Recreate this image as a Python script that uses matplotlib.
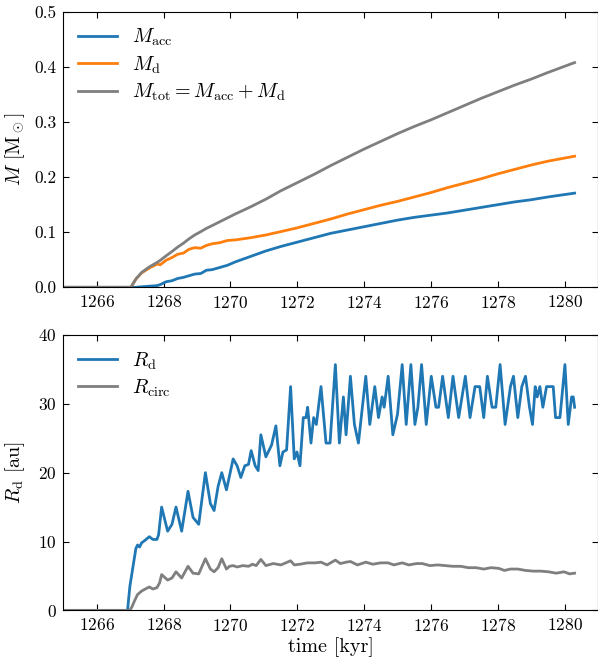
from __future__ import annotations

from pathlib import Path

import matplotlib

matplotlib.use("Agg")
import matplotlib.pyplot as plt

plt.rcParams["font.family"] = "serif"
plt.rcParams["font.serif"] = ["cmr10"]
plt.rcParams["mathtext.fontset"] = "cm"
plt.rcParams["axes.formatter.use_mathtext"] = True

# --- mass panel (kyr, Msun) -------------------------------------------------
T_MASS = [
    1265.0, 1267.02, 1267.17, 1267.34, 1267.57, 1267.80, 1267.90, 1268.07,
    1268.25, 1268.42, 1268.59, 1268.76, 1268.93, 1269.11, 1269.28, 1269.45,
    1269.68, 1269.91, 1270.14, 1270.6, 1271.06, 1271.5, 1272.0, 1272.5,
    1273.0, 1273.5, 1274.0, 1274.5, 1275.0, 1275.5, 1276.0, 1276.5, 1277.0,
    1277.5, 1278.0, 1278.5, 1279.0, 1279.5, 1280.3,
]
M_ACC = [
    0.0, 0.0, 0.0, 0.001, 0.002, 0.003, 0.005, 0.010,
    0.012, 0.016, 0.018, 0.021, 0.024, 0.025, 0.031, 0.032,
    0.036, 0.040, 0.046, 0.056, 0.066, 0.074, 0.082, 0.090,
    0.098, 0.104, 0.110, 0.116, 0.122, 0.127, 0.131, 0.135, 0.140,
    0.145, 0.150, 0.155, 0.159, 0.164, 0.171,
]
M_DISK = [
    0.0, 0.0, 0.015, 0.026, 0.035, 0.042, 0.041, 0.049,
    0.054, 0.060, 0.062, 0.069, 0.072, 0.071, 0.076, 0.079,
    0.081, 0.085, 0.086, 0.090, 0.095, 0.101, 0.108, 0.116,
    0.124, 0.133, 0.141, 0.149, 0.156, 0.164, 0.172, 0.181, 0.189,
    0.197, 0.206, 0.214, 0.222, 0.229, 0.238,
]
M_TOT = [
    0.0, 0.0, 0.015, 0.027, 0.037, 0.045, 0.049, 0.057,
    0.065, 0.073, 0.080, 0.088, 0.095, 0.101, 0.107, 0.112,
    0.119, 0.126, 0.133, 0.146, 0.160, 0.175, 0.190, 0.205,
    0.221, 0.236, 0.251, 0.265, 0.279, 0.292, 0.304, 0.317, 0.330,
    0.343, 0.355, 0.367, 0.378, 0.390, 0.408,
]

# --- disc radius (kyr, au) --------------------------------------------------
T_RD = [
    1265.0, 1266.92, 1266.94, 1266.99, 1267.17, 1267.22, 1267.28, 1267.34,
    1267.45, 1267.57, 1267.68, 1267.80, 1267.85, 1267.94, 1268.12, 1268.25,
    1268.37, 1268.54, 1268.73, 1268.88, 1269.05, 1269.25, 1269.40, 1269.51,
    1269.63, 1269.74, 1269.88, 1269.97, 1270.08, 1270.20, 1270.31, 1270.43,
    1270.54, 1270.62, 1270.74, 1270.83, 1270.91, 1271.06, 1271.23, 1271.36,
    1271.48, 1271.57, 1271.68, 1271.80, 1271.91, 1271.99, 1272.08, 1272.18,
    1272.26, 1272.31, 1272.41, 1272.49, 1272.57, 1272.71, 1272.86, 1272.98,
    1273.14, 1273.26, 1273.38, 1273.46, 1273.59, 1273.71, 1273.83, 1274.05,
    1274.17, 1274.32, 1274.43, 1274.54, 1274.60, 1274.72, 1274.86, 1275.00,
    1275.14, 1275.26, 1275.40, 1275.52, 1275.61, 1275.72, 1275.86, 1276.01,
    1276.15, 1276.23, 1276.35, 1276.52, 1276.66, 1276.83, 1277.03, 1277.17,
    1277.32, 1277.46, 1277.58, 1277.69, 1277.83, 1277.94, 1278.07, 1278.22,
    1278.38, 1278.47, 1278.60, 1278.72, 1278.83, 1278.95, 1279.04, 1279.12,
    1279.18, 1279.26, 1279.35, 1279.46, 1279.66, 1279.73, 1279.86, 1279.92,
    1280.01, 1280.11, 1280.21, 1280.26, 1280.30,
]
R_DISK = [
    0.0, 0.0, 1.0, 3.5, 9.0, 9.5, 9.2, 9.8,
    10.2, 10.7, 10.3, 10.3, 11.0, 15.0, 11.5, 12.5,
    15.0, 11.5, 17.3, 13.5, 12.5, 20.0, 15.5, 14.5,
    18.0, 20.0, 17.5, 19.5, 22.0, 21.0, 19.3, 21.0,
    21.2, 23.2, 21.0, 20.3, 25.5, 22.3, 24.0, 26.8,
    21.0, 23.0, 23.3, 32.5, 22.0, 23.0, 21.0, 28.0,
    28.0, 29.5, 24.3, 28.0, 27.0, 32.5, 24.3, 24.3,
    35.7, 24.3, 31.0, 25.5, 34.0, 27.0, 24.3, 34.0,
    27.0, 32.5, 28.0, 31.0, 29.5, 34.0, 25.5, 28.5,
    35.7, 27.0, 35.7, 27.0, 29.5, 35.7, 27.0, 34.0,
    29.5, 29.5, 34.0, 28.0, 34.0, 28.0, 34.0, 28.0,
    32.5, 32.5, 28.0, 34.0, 29.5, 29.5, 35.7, 27.0,
    32.5, 34.0, 28.0, 32.5, 34.0, 29.5, 27.0, 32.5,
    31.0, 32.5, 29.5, 32.5, 32.5, 28.0, 28.0, 31.0,
    35.7, 27.0, 31.0, 31.0, 29.5,
]

T_RC = [
    1265.0, 1266.99, 1267.05, 1267.14, 1267.22, 1267.34, 1267.45, 1267.57,
    1267.68, 1267.80, 1267.88, 1267.94, 1268.12, 1268.25, 1268.37, 1268.54,
    1268.73, 1268.88, 1269.05, 1269.25, 1269.40, 1269.51, 1269.63, 1269.74,
    1269.88, 1269.97, 1270.08, 1270.20, 1270.37, 1270.54, 1270.66, 1270.77,
    1270.91, 1271.06, 1271.28, 1271.51, 1271.80, 1271.91, 1272.08, 1272.31,
    1272.54, 1272.71, 1272.89, 1273.14, 1273.29, 1273.46, 1273.59, 1273.80,
    1274.05, 1274.26, 1274.49, 1274.72, 1274.89, 1275.14, 1275.34, 1275.57,
    1275.74, 1275.97, 1276.20, 1276.43, 1276.66, 1276.89, 1277.12, 1277.35,
    1277.58, 1277.80, 1278.03, 1278.20, 1278.38, 1278.60, 1278.83, 1279.06,
    1279.29, 1279.52, 1279.75, 1279.98, 1280.15, 1280.30,
]
R_CIRC = [
    0.0, 0.0, 0.5, 1.5, 2.3, 2.8, 3.1, 3.4,
    3.1, 3.3, 4.0, 5.2, 4.4, 4.7, 5.6, 4.7,
    6.4, 5.4, 5.3, 7.5, 6.0, 5.6, 6.2, 7.5,
    6.0, 6.4, 6.5, 6.3, 6.5, 6.4, 6.7, 6.5,
    7.4, 6.5, 6.8, 6.6, 7.2, 6.6, 6.7, 6.9,
    6.9, 7.0, 6.6, 7.3, 6.8, 7.0, 7.1, 6.6,
    7.0, 6.7, 6.9, 6.9, 6.6, 6.9, 6.6, 6.8,
    6.8, 6.5, 6.6, 6.5, 6.4, 6.4, 6.2, 6.2,
    6.0, 6.2, 6.1, 5.8, 6.0, 6.0, 5.8, 5.7,
    5.7, 5.6, 5.4, 5.6, 5.3, 5.4,
]

BLUE = "#1f77b4"
ORANGE = "#ff7f0e"
GREY = "#7f7f7f"


def _style_axes(ax) -> None:
    ax.set_xlim(1265, 1281)
    ax.set_xticks([1266, 1268, 1270, 1272, 1274, 1276, 1278, 1280])
    ax.tick_params(
        direction="in", top=True, right=True, length=4.5, width=0.8,
        labelsize=12.5, pad=5,
    )


def _legend(ax) -> None:
    ax.legend(loc="upper left", frameon=False, fontsize=14.5,
              handlelength=1.9, handletextpad=0.75, borderaxespad=0.35,
              labelspacing=0.3)


def make_plot(out_path: Path) -> None:
    fig = plt.figure(figsize=(5.98, 6.62), dpi=100)
    ax_m = fig.add_axes([0.106, 0.566, 0.894, 0.416])
    ax_r = fig.add_axes([0.106, 0.078, 0.894, 0.416])

    lw = 2.0
    ax_m.plot(T_MASS, M_ACC, color=BLUE, lw=lw, label=r"$M_\mathrm{acc}$")
    ax_m.plot(T_MASS, M_DISK, color=ORANGE, lw=lw, label=r"$M_\mathrm{d}$")
    ax_m.plot(T_MASS, M_TOT, color=GREY, lw=lw,
              label=r"$M_\mathrm{tot} = M_\mathrm{acc} + M_\mathrm{d}$")
    _style_axes(ax_m)
    ax_m.set_ylim(0, 0.5)
    ax_m.set_yticks([0.0, 0.1, 0.2, 0.3, 0.4, 0.5])
    ax_m.set_yticklabels(["0.0", "0.1", "0.2", "0.3", "0.4", "0.5"])
    ax_m.set_ylabel(r"$M$ [M$_\odot$]", fontsize=14.5)
    _legend(ax_m)

    ax_r.plot(T_RD, R_DISK, color=BLUE, lw=lw, label=r"$R_\mathrm{d}$")
    ax_r.plot(T_RC, R_CIRC, color=GREY, lw=lw, label=r"$R_\mathrm{circ}$")
    _style_axes(ax_r)
    ax_r.set_ylim(0, 40)
    ax_r.set_yticks([0, 10, 20, 30, 40])
    ax_r.set_ylabel(r"$R_\mathrm{d}$ [au]", fontsize=14.5)
    ax_r.set_xlabel("time [kyr]", fontsize=14.5, labelpad=2)
    _legend(ax_r)

    for ax in (ax_m, ax_r):
        ax.yaxis.set_label_coords(-0.068, 0.5)

    fig.savefig(out_path, dpi=100)
    plt.close(fig)


def main() -> None:
    make_plot(Path("out.png"))


if __name__ == "__main__":
    main()
